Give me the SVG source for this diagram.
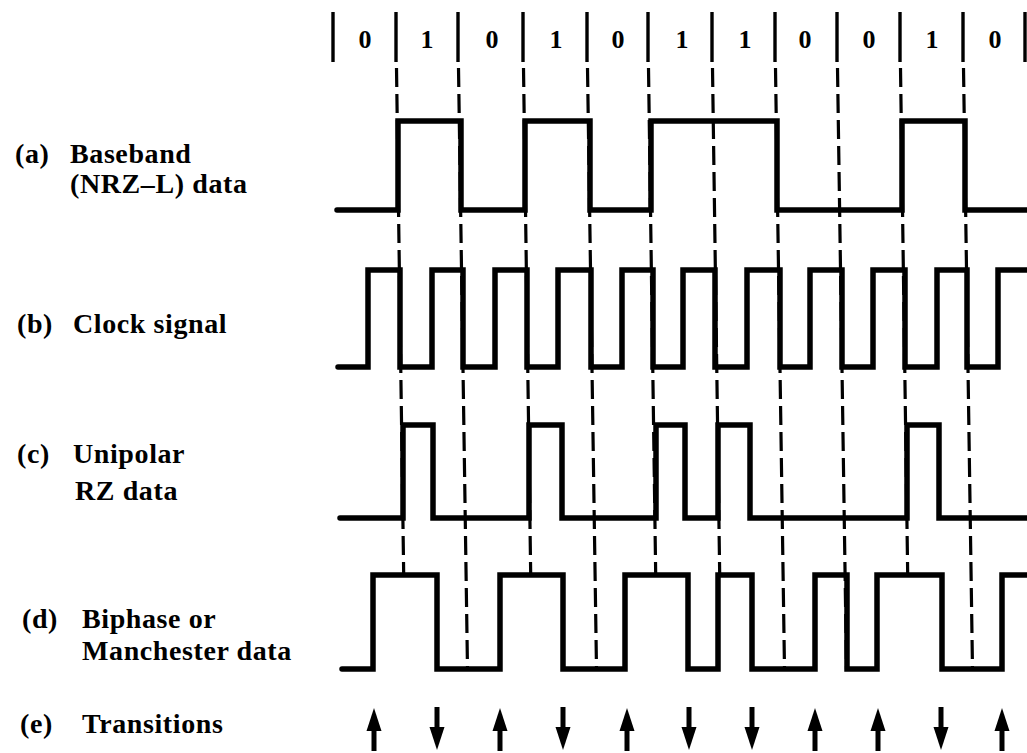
<svg xmlns="http://www.w3.org/2000/svg" xmlns:xlink="http://www.w3.org/1999/xlink" width="1027" height="753" viewBox="0 0 1027 753">
<style>
.lbl{font-family:"Liberation Serif","Times New Roman",serif;font-weight:bold;font-size:28px;letter-spacing:0.6px;fill:#000}
.bit{font-family:"Liberation Serif","Times New Roman",serif;font-weight:bold;font-size:26px;fill:#000;text-anchor:middle}
.wave{fill:none;stroke:#000;stroke-width:5.5;stroke-linejoin:miter;stroke-linecap:round}
.sep{stroke:#000;stroke-width:3.4}
.dash{stroke:#000;stroke-width:3.2;stroke-dasharray:19 7;fill:none}
</style>
<defs>
<g id="up"><rect x="-2.5" y="726" width="5" height="25"/><polygon points="0,708 -7.5,731 7.5,731"/></g>
<g id="down"><rect x="-2.5" y="707" width="5" height="24"/><polygon points="0,750 -7.5,727 7.5,727"/></g>
</defs>
<rect width="1027" height="753" fill="#fff"/>

<g id="bits">
<g class="sep">
<line x1="333" y1="12" x2="333" y2="62"/>
<line x1="396" y1="12" x2="396" y2="62"/>
<line x1="458" y1="12" x2="458" y2="62"/>
<line x1="523" y1="12" x2="523" y2="62"/>
<line x1="587" y1="12" x2="587" y2="62"/>
<line x1="648" y1="12" x2="648" y2="62"/>
<line x1="712" y1="12" x2="712" y2="62"/>
<line x1="775" y1="12" x2="775" y2="62"/>
<line x1="837" y1="12" x2="837" y2="62"/>
<line x1="900" y1="12" x2="900" y2="62"/>
<line x1="963" y1="12" x2="963" y2="62"/>
<line x1="1025" y1="12" x2="1025" y2="62"/>
</g>
<text class="bit" x="365" y="48">0</text>
<text class="bit" x="427" y="48">1</text>
<text class="bit" x="492" y="48">0</text>
<text class="bit" x="556" y="48">1</text>
<text class="bit" x="618" y="48">0</text>
<text class="bit" x="682" y="48">1</text>
<text class="bit" x="745" y="48">1</text>
<text class="bit" x="805" y="48">0</text>
<text class="bit" x="869" y="48">0</text>
<text class="bit" x="932" y="48">1</text>
<text class="bit" x="995" y="48">0</text>
</g>

<g id="connectors" class="dash">
<line x1="396.5" y1="68" x2="403.7" y2="575"/>
<line x1="458.5" y1="68" x2="467.5" y2="669"/>
<line x1="523.5" y1="68" x2="530.7" y2="575"/>
<line x1="587.5" y1="68" x2="596.5" y2="669"/>
<line x1="648.5" y1="68" x2="655.7" y2="575"/>
<line x1="712.5" y1="68" x2="719.7" y2="575"/>
<line x1="775.5" y1="68" x2="784.5" y2="669"/>
<line x1="837.5" y1="68" x2="846.5" y2="669"/>
<line x1="900.5" y1="68" x2="907.7" y2="575"/>
<line x1="963.5" y1="68" x2="972.5" y2="669"/>
</g>

<g id="node-a">
<text class="lbl" x="15" y="163">(a)</text>
<text class="lbl" x="70" y="163">Baseband</text>
<text class="lbl" x="70" y="193">(NRZ–L) data</text>
<path class="wave" d="M337 210 H398 V121 H461 V210 H525 V121 H590 V210 H651 V121 H777 V210 H902 V121 H965 V210 H1032"/>
</g>

<g id="node-b">
<text class="lbl" x="17" y="333">(b)</text>
<text class="lbl" x="73" y="333">Clock signal</text>
<path class="wave" d="M338 367 H368 V270 H400 V367 H432 V270 H463 V367 H495 V270 H527 V367 H558 V270 H591 V367 H622 V270 H653 V367 H683 V270 H715 V367 H747 V270 H780 V367 H810 V270 H842 V367 H873 V270 H905 V367 H937 V270 H967 V367 H998 V270 H1032"/>
</g>

<g id="node-c">
<text class="lbl" x="17" y="463">(c)</text>
<text class="lbl" x="73" y="463">Unipolar</text>
<text class="lbl" x="75" y="500">RZ data</text>
<path class="wave" d="M340 518 H403 V425 H433 V518 H529 V425 H562 V518 H656 V425 H685 V518 H718 V425 H750 V518 H907 V425 H939 V518 H1032"/>
</g>

<g id="node-d">
<text class="lbl" x="22" y="628">(d)</text>
<text class="lbl" x="82" y="628">Biphase or</text>
<text class="lbl" x="82" y="660">Manchester data</text>
<path class="wave" d="M342 669 H373 V575 H437 V669 H500 V575 H563 V669 H625 V575 H688 V669 H718 V575 H752 V669 H815 V575 H847 V669 H877 V575 H942 V669 H1002 V575 H1032"/>
</g>

<g id="node-e">
<text class="lbl" x="20" y="733">(e)</text>
<text class="lbl" x="82" y="733">Transitions</text>
<use xlink:href="#up" x="374"/>
<use xlink:href="#down" x="437"/>
<use xlink:href="#up" x="500"/>
<use xlink:href="#down" x="563"/>
<use xlink:href="#up" x="627"/>
<use xlink:href="#down" x="689"/>
<use xlink:href="#down" x="752"/>
<use xlink:href="#up" x="815"/>
<use xlink:href="#up" x="878"/>
<use xlink:href="#down" x="941"/>
<use xlink:href="#up" x="1002"/>
</g>
</svg>
